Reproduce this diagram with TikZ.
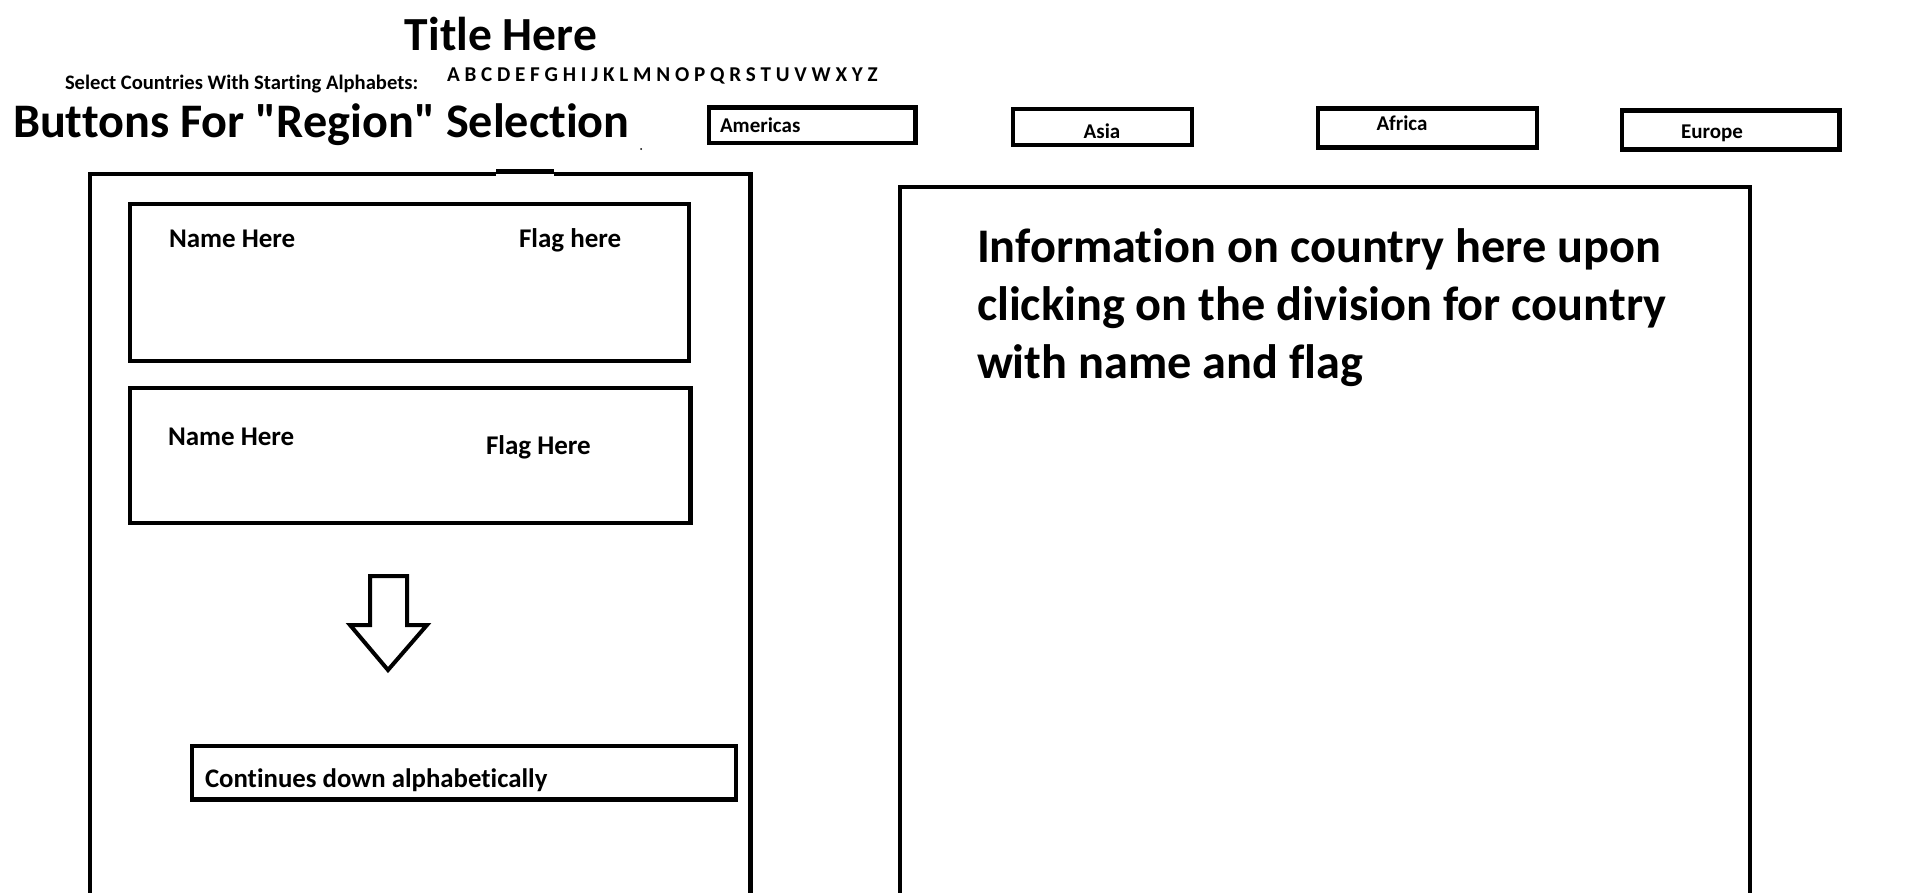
\documentclass[tikz,border=0pt]{standalone}
\usepackage{fontspec}
\setmainfont{Carlito}[Ligatures={NoCommon}]
\newfontfamily\carl{Carlito}[Ligatures={NoCommon}]
\tikzset{
  txt/.style={inner sep=0pt, outer sep=0pt},
  fz/.style={font={\carl\fontsize{#1}{#1}\selectfont\bfseries}},
  frame/.style={draw=black, line width=4.5pt},
  arrowshape/.style={draw=black, line width=4pt, line join=miter}
}
\begin{document}
\begin{tikzpicture}[x=1pt, y=-1pt]
\useasboundingbox (0,0) rectangle (1914,892);
\clip (0,0) rectangle (1914,892);
\fill[white] (0,0) rectangle (1914,892);

% header texts
\node[txt, fz=47.5, anchor=base] (title) at (501,50) {Title Here};
\node[txt, fz=20.6, anchor=base west] (select) at (65,89) {Select Countries With Starting Alphabets:};
\node[txt, fz=21.1, anchor=base west] (alpha) at (447,81) {A B C D E F G H I J K L M N O P Q R S T U V W X Y Z};
\node[txt, fz=48.2, anchor=base west] (buttons) at (13,137) {Buttons For "Region" Selection};
\fill (641,149) circle (1pt);

% region buttons
\draw[frame] (709,107.5) rectangle (915.5,143);
\node[txt, fz=21, anchor=base west] (americas) at (720,132) {Americas};
\draw[frame] (1013,109) rectangle (1192,145);
\node[txt, fz=21, anchor=base] (asia) at (1102,138) {Asia};
\draw[frame] (1318,108.5) rectangle (1537,147.5);
\node[txt, fz=21, anchor=base] (africa) at (1402,130) {Africa};
\draw[frame] (1622,110.5) rectangle (1839.5,149.5);
\node[txt, fz=21, anchor=base] (europe) at (1712,138) {Europe};

% left panel
\draw[frame] (90,900) -- (90,174) -- (496,174);
\draw[frame] (496,171.5) -- (554,171.5);
\draw[frame] (554,174) -- (750.5,174) -- (750.5,900);

% country entries
\draw[frame] (130,204) rectangle (689,361);
\node[txt, fz=27, anchor=base west] (name1) at (169,247) {Name Here};
\node[txt, fz=27, anchor=base west] (flag1) at (519,247) {Flag here};
\draw[frame] (130,388) rectangle (690.5,523);
\node[txt, fz=27, anchor=base west] (name2) at (168,445) {Name Here};
\node[txt, fz=27, anchor=base west] (flag2) at (486,454) {Flag Here};

% down arrow
\draw[arrowshape] (370,576) -- (407,576) -- (407,625) -- (427,625) -- (388,670)
  -- (350,625) -- (370,625) -- cycle;

% continues box
\draw[frame] (192,746) rectangle (736,799.5);
\node[txt, fz=26.8, anchor=base west] (cont) at (205,787) {Continues down alphabetically};

% right panel
\draw[frame] (900,900) -- (900,187) -- (1750,187) -- (1750,900);
\node[txt, fz=48.3, anchor=base west] (info1) at (977,262) {Information on country here upon};
\node[txt, fz=48.3, anchor=base west] (info2) at (977,320) {clicking on the division for country};
\node[txt, fz=48.3, anchor=base west] (info3) at (977,378) {with name and flag};
\end{tikzpicture}
\end{document}
